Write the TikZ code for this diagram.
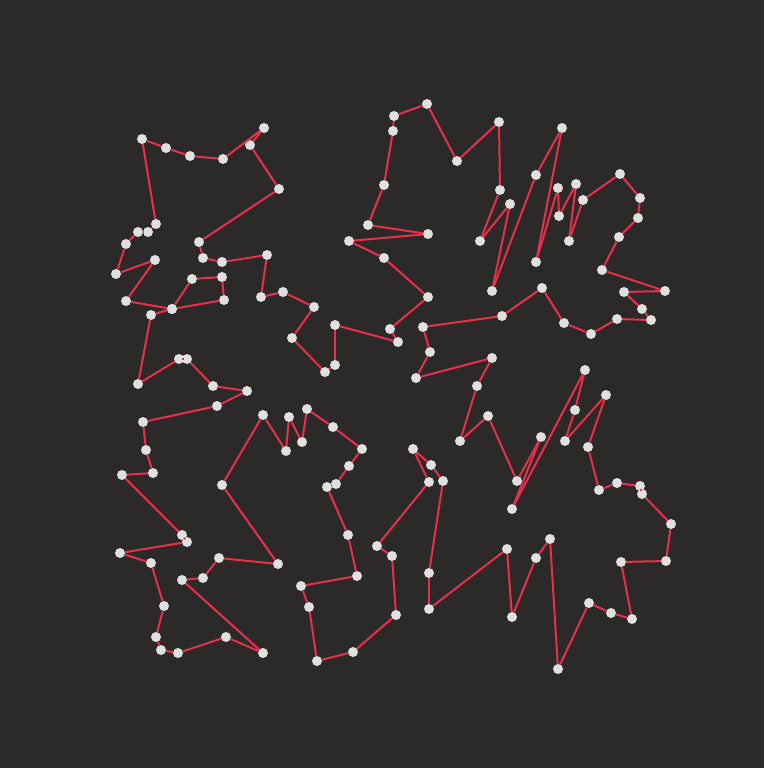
\documentclass[tikz,border=0pt]{standalone}
\definecolor{canvas}{HTML}{2B2A29}
\definecolor{tourred}{HTML}{E8304A}
\definecolor{citygray}{HTML}{E0E0E0}
\begin{document}
	\begin{tikzpicture}[x=1pt, y=-1pt]
		\fill[canvas] (0,0) rectangle (764,768);
		\useasboundingbox (0,0) rectangle (764,768);
		\begin{scope}[every node/.style={circle, fill=citygray, inner sep=0pt, minimum size=10pt}]
			\foreach \n/\x/\y in {
				1/142/139, 2/166/148, 3/190/156, 4/223/159, 5/264/128,
				6/250/145, 7/279/189, 8/199/242, 9/203/258, 10/222/262,
				11/267/255, 12/261/297, 13/283/292, 14/314/307, 15/292/338,
				16/325/372, 17/335/365, 18/335/325, 19/398/342, 20/390/329,
				21/428/297, 22/384/258, 23/349/241, 24/428/234, 25/368/225,
				26/384/185, 27/393/131, 28/394/116, 29/427/104, 30/457/161,
				31/499/122, 32/500/190, 33/480/241, 34/510/204, 35/492/291,
				36/536/175, 37/562/128, 38/536/262, 39/558/188, 40/559/216,
				41/576/184, 42/569/241, 43/583/200, 44/620/174, 45/640/198,
				46/638/218, 47/619/237, 48/602/270, 49/665/291, 50/624/292,
				51/642/309, 52/651/320, 53/617/319, 54/591/334, 55/564/323,
				56/542/288, 57/502/316, 58/423/327, 59/430/352, 60/416/378,
				61/492/358, 62/477/386, 63/460/441, 64/488/416, 65/517/481,
				66/541/437, 67/512/509, 68/585/370, 69/575/410, 70/565/441,
				71/606/395, 72/588/447, 73/599/490, 74/617/483, 75/640/486,
				76/642/494, 77/671/524, 78/666/561, 79/621/562, 80/632/619,
				81/611/613, 82/589/603, 83/558/669, 84/550/539, 85/536/558,
				86/512/617, 87/507/549, 88/429/609, 89/429/573, 90/443/481,
				91/431/465, 92/413/449, 93/429/482, 94/377/546, 95/392/556,
				96/396/615, 97/353/652, 98/317/661, 99/309/607, 100/301/586,
				101/357/576, 102/348/535, 103/327/487, 104/336/484, 105/349/466,
				106/362/449, 107/333/427, 108/307/409, 109/302/442, 110/289/417,
				111/286/451, 112/263/415, 113/222/485, 114/278/564, 115/219/558,
				116/203/578, 117/182/580, 118/263/653, 119/226/637, 120/178/653,
				121/161/650, 122/156/637, 123/164/606, 124/151/563, 125/120/553,
				126/187/542, 127/182/535, 128/122/475, 129/153/473, 130/146/450,
				131/143/422, 132/217/406, 133/247/391, 134/213/386, 135/187/359,
				136/179/359, 137/138/384, 138/151/315, 139/172/309, 140/224/300,
				141/222/277, 142/192/279, 143/172/309, 144/126/301, 145/155/260,
				146/116/274, 147/126/244, 148/138/232, 149/148/232, 150/156/224}
				\node (c\n) at (\x,\y) {};
		\end{scope}
		\begin{scope}[every path/.style={draw=tourred, line width=2pt}]
			\foreach \n [remember=\n as \prev (initially 150)] in {1,...,150}
				\path (c\prev) edge (c\n);
		\end{scope}
	\end{tikzpicture}
\end{document}
